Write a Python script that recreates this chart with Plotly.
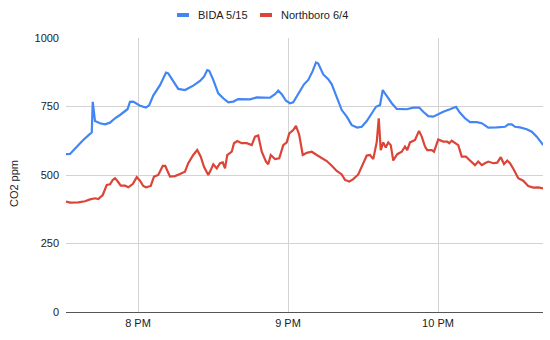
import plotly.graph_objects as go

# CO2 readings (ppm) over the evening, two dances
bida_times = [
    "19:31:12", "19:32:48", "19:34:06", "19:36:06", "19:38:06", "19:40:48", "19:41:30", "19:41:54",
    "19:42:48", "19:44:48", "19:46:48", "19:48:48", "19:50:48", "19:52:48", "19:54:48", "19:55:48",
    "19:56:48", "19:58:06", "20:00:48", "20:03:12", "20:04:30", "20:06:06", "20:08:48", "20:11:12",
    "20:12:06", "20:14:06", "20:16:06", "20:18:48", "20:22:06", "20:24:48", "20:26:24", "20:27:42",
    "20:28:30", "20:30:06", "20:32:06", "20:34:06", "20:36:06", "20:38:06", "20:40:06", "20:44:48",
    "20:47:30", "20:52:48", "20:54:48", "20:56:06", "20:57:30", "20:59:12", "21:00:48", "21:02:06",
    "21:04:06", "21:06:24", "21:08:06", "21:09:54", "21:11:12", "21:12:06", "21:14:06", "21:16:06",
    "21:17:30", "21:19:30", "21:21:30", "21:23:30", "21:25:30", "21:27:42", "21:29:30", "21:31:30",
    "21:33:30", "21:35:12", "21:36:48", "21:37:54", "21:39:12", "21:41:30", "21:43:30", "21:47:30",
    "21:50:06", "21:52:30", "21:54:06", "21:56:06", "21:58:06", "22:00:06", "22:02:06", "22:04:48",
    "22:07:12", "22:08:48", "22:10:48", "22:12:48", "22:15:30", "22:17:30", "22:20:06", "22:23:30",
    "22:26:48", "22:28:06", "22:29:30", "22:30:48", "22:32:48", "22:35:30", "22:37:30", "22:39:30",
    "22:42:06",
]
bida_ppm = [
    576, 577, 589, 609, 628, 650, 655, 767,
    697, 689, 685, 691, 707, 719, 731, 740,
    767, 768, 753, 746, 755, 790, 828, 874,
    871, 841, 814, 810, 826, 843, 859, 883,
    880, 847, 798, 780, 765, 768, 777, 776,
    783, 782, 795, 808, 795, 771, 762, 765,
    795, 831, 847, 880, 911, 907, 867, 850,
    831, 780, 737, 713, 682, 673, 676, 697,
    725, 749, 755, 810, 792, 762, 741, 740,
    746, 746, 731, 715, 713, 723, 731, 740,
    749, 727, 707, 693, 693, 689, 673, 674,
    676, 685, 685, 676, 674, 667, 658, 640,
    609,
]

northboro_times = [
    "19:31:12", "19:32:48", "19:36:06", "19:38:48", "19:40:48", "19:42:48", "19:44:06", "19:45:54",
    "19:47:30", "19:48:48", "19:49:54", "19:50:48", "19:51:42", "19:53:06", "19:54:48", "19:56:06",
    "19:57:54", "19:59:30", "20:00:48", "20:02:06", "20:03:12", "20:05:06", "20:06:24", "20:08:06",
    "20:09:54", "20:10:54", "20:12:48", "20:14:48", "20:16:48", "20:18:48", "20:20:06", "20:22:06",
    "20:23:42", "20:25:06", "20:26:24", "20:28:06", "20:29:06", "20:30:06", "20:31:30", "20:32:48",
    "20:33:54", "20:34:48", "20:35:42", "20:37:30", "20:38:24", "20:39:42", "20:41:30", "20:43:30",
    "20:45:30", "20:46:48", "20:48:06", "20:49:30", "20:51:12", "20:52:06", "20:53:06", "20:54:48",
    "20:56:30", "20:58:06", "20:59:30", "21:00:30", "21:02:06", "21:03:12", "21:04:30", "21:05:54",
    "21:07:30", "21:09:30", "21:11:30", "21:13:30", "21:15:30", "21:17:30", "21:19:30", "21:21:30",
    "21:22:48", "21:24:30", "21:26:06", "21:28:06", "21:29:54", "21:31:30", "21:32:48", "21:34:06",
    "21:35:30", "21:36:18", "21:37:06", "21:38:06", "21:39:06", "21:40:06", "21:41:06", "21:42:06",
    "21:43:42", "21:45:30", "21:46:48", "21:47:42", "21:48:48", "21:50:48", "21:52:24", "21:53:30",
    "21:54:48", "21:55:42", "21:57:30", "21:58:24", "22:00:06", "22:02:06", "22:03:42", "22:04:30",
    "22:05:30", "22:06:48", "22:08:06", "22:09:30", "22:11:12", "22:12:48", "22:14:48", "22:16:06",
    "22:17:30", "22:18:48", "22:20:06", "22:22:06", "22:23:42", "22:25:06", "22:26:24", "22:27:42",
    "22:28:48", "22:30:24", "22:32:06", "22:34:06", "22:36:06", "22:38:06", "22:40:06", "22:42:06",
]
northboro_ppm = [
    403, 399, 400, 404, 411, 415, 412, 427,
    464, 466, 482, 488, 479, 461, 461, 455,
    467, 492, 479, 460, 455, 460, 494, 500,
    533, 533, 494, 496, 504, 512, 543, 573,
    591, 567, 530, 500, 518, 539, 524, 543,
    546, 524, 573, 585, 616, 624, 616, 616,
    609, 640, 644, 585, 549, 539, 573, 558,
    561, 609, 619, 652, 664, 679, 646, 573,
    581, 585, 573, 561, 551, 534, 515, 502,
    482, 476, 485, 502, 536, 571, 573, 558,
    621, 707, 591, 619, 600, 619, 609, 553,
    576, 585, 604, 591, 619, 628, 661, 640,
    604, 591, 591, 585, 630, 622, 622, 616,
    625, 618, 609, 567, 567, 553, 536, 549,
    536, 543, 549, 543, 545, 565, 540, 553,
    543, 518, 488, 479, 460, 454, 455, 451,
]

series_names = ["BIDA 5/15", "Northboro 6/4"]
series_colors = ["#4285F4", "#DB4437"]
y_ticks = [0, 250, 500, 750, 1000]
x_ticks = ["20:00:00", "21:00:00", "22:00:00"]
x_tick_labels = ["8 PM", "9 PM", "10 PM"]

DAY = "2024-06-04 "
FONT = "Liberation Sans, Arial, sans-serif"

fig = go.Figure()
for name, color, times, vals in [
    (series_names[0], series_colors[0], bida_times, bida_ppm),
    (series_names[1], series_colors[1], northboro_times, northboro_ppm),
]:
    fig.add_trace(go.Scatter(
        x=[DAY + t for t in times], y=vals, name=name, mode="lines",
        line=dict(color=color, width=2.2), showlegend=False,
    ))

# Hand-built legend above the plot: short colour bars with labels
legend_items = [
    (series_names[0], series_colors[0], 0.2327, 0.2725),
    (series_names[1], series_colors[1], 0.4067, 0.4465),
]
shapes = []
annotations = []
for name, color, x0, tx in legend_items:
    shapes.append(dict(type="rect", xref="paper", yref="paper",
                       x0=x0, x1=x0 + 0.0252, y0=1.0766, y1=1.0912,
                       fillcolor=color, line=dict(width=0)))
    annotations.append(dict(text=name, xref="paper", yref="paper", x=tx, y=1.084,
                            xanchor="left", yanchor="middle", showarrow=False,
                            font=dict(family=FONT, size=11, color="#222222")))

# Y axis title
annotations.append(dict(text="CO2 ppm", textangle=-90, xref="paper", yref="paper",
                        x=-0.109, y=0.467, xanchor="center", yanchor="middle",
                        showarrow=False, font=dict(family=FONT, size=11, color="#222222")))

fig.update_layout(
    width=550, height=340,
    margin=dict(l=66, r=7, t=38, b=28),
    paper_bgcolor="white", plot_bgcolor="white",
    font=dict(family=FONT, size=11, color="#222222"),
    shapes=shapes, annotations=annotations,
    xaxis=dict(
        range=[DAY + "19:31:12", DAY + "22:42:00"],
        tickvals=[DAY + t for t in x_ticks], ticktext=x_tick_labels,
        showgrid=True, gridcolor="#d3d3d3", gridwidth=1,
        showline=True, linecolor="#555555", linewidth=1,
        ticks="", ticklabelstandoff=1, zeroline=False,
    ),
    yaxis=dict(
        range=[0, 1000], tickvals=y_ticks,
        showgrid=True, gridcolor="#d3d3d3", gridwidth=1,
        zeroline=False, showline=False, ticks="", ticklabelstandoff=6,
    ),
)

fig.write_html("out.html")
